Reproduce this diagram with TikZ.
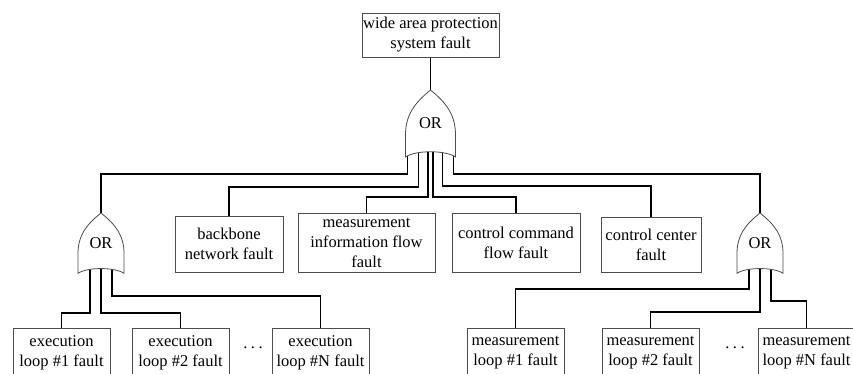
\documentclass[tikz,border=0pt]{standalone}
\usepackage{fontspec}
\setmainfont{Liberation Serif}
\newfontfamily\labelserif{Liberation Serif}
\pgfdeclarelayer{wires}
\pgfsetlayers{wires,main}
\tikzset{
  label font/.style={font=\labelserif\fontsize{16.5}{20}\selectfont},
  box/.style={draw=black!70, line width=0.8pt, inner sep=0pt, outer sep=0pt,
    align=center, label font, text=black},
  wire/.style={draw=black, line width=1.4pt},
  gatebody/.style={draw=black!70, line width=0.8pt, fill=white},
  gatetext/.style={label font, inner sep=0pt, text=black},
  orgate/.pic={
    \path[gatebody] (0,0) .. controls (-16,13) and (-25,25) .. (-25,45) -- (-25,67)
      .. controls (-15,60) and (15,60) .. (25,67) -- (25,45)
      .. controls (25,25) and (16,13) .. (0,0) -- cycle;
    \node[gatetext] (-lbl) at (0,33) {OR};
    \coordinate (-tip) at (0,0);
    \coordinate (-a) at (-23,63);
    \coordinate (-b) at (-12,62);
    \coordinate (-c) at (-2.5,62);
    \coordinate (-m) at (0,62);
    \coordinate (-d) at (2.5,62);
    \coordinate (-e) at (12,62);
    \coordinate (-f) at (23,63);
  }
}
\begin{document}
\begin{tikzpicture}[x=1pt,y=-1pt]
\useasboundingbox (0,0) rectangle (853,374);
\clip (0,0) rectangle (853,374);

% top event
\node[box, minimum width=137pt, minimum height=44pt] (top) at (430.5,35)
  {wide area protection\\system fault};

% gates
\pic (g0) at (430.5,90) {orgate};
\pic[xscale=0.92, yscale=0.9] (g1) at (101,213) {orgate};
\pic[xscale=0.92, yscale=0.9] (g2) at (760,213) {orgate};

% intermediate events
\node[box, minimum width=108pt, minimum height=56pt] (backbone) at (229,244)
  {backbone\\network fault};
\node[box, minimum width=137pt, minimum height=59pt] (measinfo) at (366.5,242.5)
  {measurement\\information flow\\fault};
\node[box, minimum width=128pt, minimum height=59pt] (ctrlcmd) at (516,242.5)
  {control command\\flow fault};
\node[box, minimum width=100pt, minimum height=55pt] (ctrlcenter) at (651,244.5)
  {control center\\fault};

% basic events
\tikzset{leaf/.style={box, minimum width=97pt, minimum height=50pt}}
\node[leaf] (exec1) at (61.5,353) {execution\\loop \#1 fault};
\node[leaf] (exec2) at (180.5,353) {execution\\loop \#2 fault};
\node[leaf] (execN) at (320.5,353) {execution\\loop \#N fault};
\node[leaf] (meas1) at (515.5,353) {measurement\\loop \#1 fault};
\node[leaf] (meas2) at (650.5,353) {measurement\\loop \#2 fault};
\node[leaf] (measN) at (806.5,353) {measurement\\loop \#N fault};
\node[label font, inner sep=0pt] (dots1) at (253,348) {.\hspace{3.5pt}.\hspace{3.5pt}.};
\node[label font, inner sep=0pt] (dots2) at (735,348) {.\hspace{3.5pt}.\hspace{3.5pt}.};

% connections
\begin{pgfonlayer}{wires}
\draw[wire] (top.south) -- (g0-tip);
\draw[wire] (g0-a) -- (g0-a |- 0,174) -| (g1-tip);
\draw[wire] (g0-b) -- (g0-b |- 0,187) -| (backbone.north);
\draw[wire] (g0-c) -- (g0-c |- 0,197) -| (measinfo.north);
\draw[wire] (g0-d) -- (g0-d |- 0,197) -| (ctrlcmd.north);
\draw[wire] (g0-e) -- (g0-e |- 0,186) -| (ctrlcenter.north);
\draw[wire] (g0-f) -- (g0-f |- 0,174) -| (g2-tip);

\draw[wire] (g1-b) -- (g1-b |- 0,313) -| (exec1.north);
\draw[wire] (g1-m) -- (g1-m |- 0,313) -| (exec2.north);
\draw[wire] (g1-e) -- (g1-e |- 0,296) -| (execN.north);

\draw[wire] (g2-b) -- (g2-b |- 0,289) -| (meas1.north);
\draw[wire] (g2-m) -- (g2-m |- 0,312) -| (meas2.north);
\draw[wire] (g2-e) -- (g2-e |- 0,301) -| (measN.north);
\end{pgfonlayer}
\end{tikzpicture}
\end{document}
